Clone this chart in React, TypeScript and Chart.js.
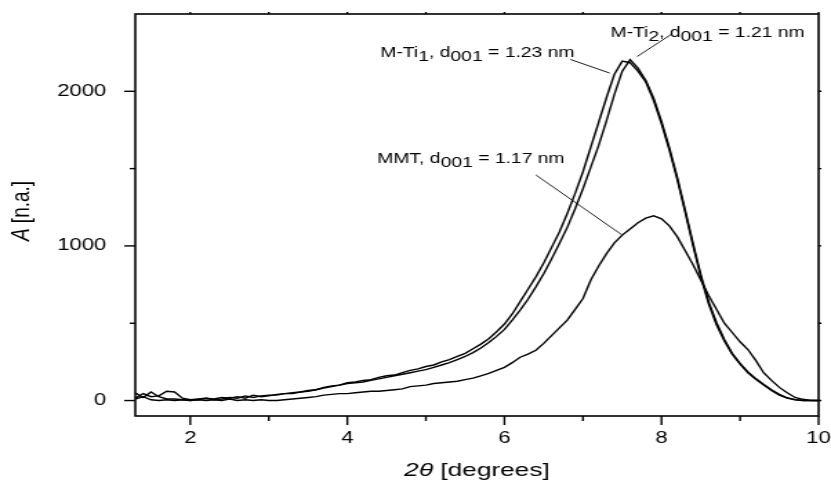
import { useEffect, useRef } from "react";
import { Chart, registerables } from "chart.js";

Chart.register(...registerables);

// 2θ values (degrees)
const twoTheta = [
  1.3, 1.4, 1.5, 1.6, 1.7, 1.8, 1.9, 2.0, 2.1, 2.2,
  2.3, 2.4, 2.5, 2.6, 2.7, 2.8, 2.9, 3.0, 3.1, 3.2,
  3.3, 3.4, 3.5, 3.6, 3.7, 3.8, 3.9, 4.0, 4.1, 4.2,
  4.3, 4.4, 4.5, 4.6, 4.7, 4.8, 4.9, 5.0, 5.1, 5.2,
  5.3, 5.4, 5.5, 5.6, 5.7, 5.8, 5.9, 6.0, 6.1, 6.2,
  6.3, 6.4, 6.5, 6.6, 6.7, 6.8, 6.9, 7.0, 7.1, 7.2,
  7.3, 7.4, 7.5, 7.6, 7.7, 7.8, 7.9, 8.0, 8.1, 8.2,
  8.3, 8.4, 8.5, 8.6, 8.7, 8.8, 8.9, 9.0, 9.1, 9.2,
  9.3, 9.4, 9.5, 9.6, 9.7, 9.8, 9.9, 10.0,
];

// M-Ti1 intensities
const mTi1 = [
  15, 45, 25, 30, 60, 55, 15, 5, 10, 15,
  10, 20, 15, 25, 15, 35, 25, 30, 40, 45,
  50, 55, 65, 70, 85, 95, 100, 115, 120, 130,
  135, 150, 160, 165, 180, 195, 205, 220, 230, 250,
  265, 285, 305, 335, 365, 400, 445, 495, 560, 640,
  720, 800, 890, 990, 1090, 1210, 1340, 1480, 1640, 1800,
  1960, 2110, 2195, 2185, 2130, 2060, 1940, 1790, 1620, 1430,
  1220, 1005, 800, 625, 490, 385, 300, 235, 180, 138,
  100, 65, 35, 15, 5, 0, 0, 0,
];

// M-Ti2 intensities
const mTi2 = [
  50, 20, 55, 25, 10, 10, 5, 0, 5, 15,
  5, 10, 20, 15, 30, 20, 30, 35, 35, 45,
  45, 55, 60, 70, 80, 90, 100, 110, 115, 120,
  130, 140, 150, 160, 170, 180, 190, 200, 215, 230,
  245, 265, 285, 310, 340, 375, 415, 460, 520, 585,
  655, 735, 820, 915, 1015, 1120, 1240, 1370, 1510, 1650,
  1810, 1980, 2130, 2205, 2150, 2070, 1955, 1805, 1635, 1445,
  1235, 1020, 815, 640, 505, 395, 305, 240, 185, 142,
  105, 70, 40, 18, 6, 0, 0, 0,
];

// MMT intensities
const mmt = [
  10, 25, 5, 0, 5, 0, 5, 0, 5, 0,
  5, 0, 10, 0, 5, 0, 5, 0, 0, 5,
  10, 15, 20, 25, 35, 40, 45, 45, 50, 55,
  60, 60, 65, 70, 75, 90, 95, 100, 110, 115,
  120, 125, 135, 145, 160, 175, 195, 215, 245, 280,
  300, 325, 370, 420, 470, 520, 590, 660, 780, 870,
  950, 1020, 1070, 1110, 1150, 1180, 1195, 1175, 1130, 1060,
  970, 880, 780, 680, 590, 500, 440, 380, 330, 260,
  180, 130, 85, 50, 20, 8, 0, 0,
];

const seriesNames = ["M-Ti1", "M-Ti2", "MMT"];

// axis tick values and which of them carry labels
const xTickValues = [2, 3, 4, 5, 6, 7, 8, 9, 10];
const xTickLabeled = [2, 4, 6, 8, 10];
const yTickValues = [0, 500, 1000, 1500, 2000];
const yTickLabeled = [0, 1000, 2000];

// Annotation labels: [text, isSubscript] parts
const annotationParts: [string, boolean][][] = [
  [["M-Ti", false], ["1", true], [", d", false], ["001", true], [" = 1.23 nm", false]],
  [["M-Ti", false], ["2", true], [", d", false], ["001", true], [" = 1.21 nm", false]],
  [["MMT, d", false], ["001", true], [" = 1.17 nm", false]],
];
// label anchor (data coords) and leader line (data coords)
const annotationTextAt = [[4.42, 2224], [7.35, 2353], [4.38, 1536]];
const annotationLineFrom = [[6.84, 2206], [8.12, 2367], [6.40, 1459]];
const annotationLineTo = [[7.34, 2118], [7.69, 2225], [7.50, 1070]];

const xMin = 1.3;
const xMax = 10;
const yMin = -100;
const yMax = 2500;

const FONT = "'Liberation Sans', Arial, Helvetica, sans-serif";
const STRETCH = 1.38;
const OUT_W = 831;
const OUT_H = 482;
const CANVAS_W = Math.round(OUT_W / STRETCH);

const overlayPlugin = {
  id: "overlay",
  afterDraw(chart: any) {
    const { ctx, chartArea: a, scales } = chart;
    const x = scales.x;
    const y = scales.y;
    ctx.save();
    ctx.strokeStyle = "#000";
    ctx.fillStyle = "#000";
    ctx.lineWidth = 1.6;
    ctx.strokeRect(a.left, a.top, a.right - a.left, a.bottom - a.top);

    ctx.lineWidth = 1.4;
    x.ticks.forEach((t: any) => {
      const px = x.getPixelForValue(t.value);
      const major = xTickLabeled.includes(t.value);
      ctx.beginPath();
      ctx.moveTo(px, a.bottom);
      ctx.lineTo(px, a.bottom + (major ? 9 : 5));
      ctx.stroke();
      ctx.beginPath();
      ctx.moveTo(px, a.top);
      ctx.lineTo(px, a.top - 2);
      ctx.stroke();
    });
    y.ticks.forEach((t: any) => {
      const py = y.getPixelForValue(t.value);
      const major = yTickLabeled.includes(t.value);
      ctx.beginPath();
      ctx.moveTo(a.left, py);
      ctx.lineTo(a.left - (major ? 8 : 4), py);
      ctx.stroke();
      ctx.beginPath();
      ctx.moveTo(a.right, py);
      ctx.lineTo(a.right + 2, py);
      ctx.stroke();
    });

    // axis titles
    ctx.textBaseline = "middle";
    const cx = (a.left + a.right) / 2;
    ctx.font = `italic 19px ${FONT}`;
    const w1 = ctx.measureText("2θ").width;
    ctx.font = `19px ${FONT}`;
    const w2 = ctx.measureText(" [degrees]").width;
    const sx = cx - (w1 + w2) / 2;
    ctx.textAlign = "left";
    ctx.font = `italic 19px ${FONT}`;
    ctx.fillText("2θ", sx, 471);
    ctx.font = `19px ${FONT}`;
    ctx.fillText(" [degrees]", sx + w1, 471);

    ctx.save();
    ctx.translate(16, (a.top + a.bottom) / 2 - 4);
    ctx.rotate(-Math.PI / 2);
    ctx.font = `italic 19px ${FONT}`;
    const wa = ctx.measureText("A").width;
    ctx.font = `19px ${FONT}`;
    const wb = ctx.measureText(" [n.a.]").width;
    const sy = -(wa + wb) / 2;
    ctx.font = `italic 19px ${FONT}`;
    ctx.fillText("A", sy, 0);
    ctx.font = `19px ${FONT}`;
    ctx.fillText(" [n.a.]", sy + wa, 0);
    ctx.restore();

    // annotations
    ctx.textBaseline = "alphabetic";
    ctx.font = `14px ${FONT}`;
    annotationParts.forEach((parts, i) => {
      let tx = x.getPixelForValue(annotationTextAt[i][0]);
      const ty = y.getPixelForValue(annotationTextAt[i][1]);
      parts.forEach(([s, sub]) => {
        ctx.fillText(s, tx, sub ? ty + 4 : ty);
        tx += ctx.measureText(s).width;
      });
      ctx.lineWidth = 0.9;
      ctx.beginPath();
      ctx.moveTo(x.getPixelForValue(annotationLineFrom[i][0]), y.getPixelForValue(annotationLineFrom[i][1]));
      ctx.lineTo(x.getPixelForValue(annotationLineTo[i][0]), y.getPixelForValue(annotationLineTo[i][1]));
      ctx.stroke();
    });
    ctx.restore();
  },
};

export default function App() {
  const ref = useRef<HTMLCanvasElement | null>(null);
  useEffect(() => {
    if (!ref.current) return;
    const mk = (vals: number[]) => vals.map((v, i) => ({ x: twoTheta[i], y: v }));
    const chart = new Chart(ref.current, {
      type: "line",
      data: {
        datasets: [mTi1, mTi2, mmt].map((vals, i) => ({
          label: seriesNames[i],
          data: mk(vals),
          borderColor: "#000",
          borderWidth: 1.4,
          pointRadius: 0,
          tension: 0,
          fill: false,
        })),
      },
      options: {
        animation: false,
        responsive: false,
        devicePixelRatio: 1,
        events: [],
        layout: { padding: { top: 14, right: 9, left: 0, bottom: 0 } },
        plugins: { legend: { display: false }, tooltip: { enabled: false } },
        scales: {
          x: {
            type: "linear",
            min: xMin,
            max: xMax,
            grid: { display: false },
            border: { display: false },
            afterBuildTicks: (s: any) => {
              s.ticks = xTickValues.map((v) => ({ value: v }));
            },
            ticks: {
              autoSkip: false,
              maxRotation: 0,
              padding: 5,
              color: "#000",
              font: { family: FONT, size: 16 },
              callback: (v: any) => (xTickLabeled.includes(Number(v)) ? String(v) : ""),
            },
            afterFit: (s: any) => {
              s.height = 66;
              s.paddingLeft = 0;
              s.paddingRight = 0;
            },
          },
          y: {
            type: "linear",
            min: yMin,
            max: yMax,
            grid: { display: false },
            border: { display: false },
            afterBuildTicks: (s: any) => {
              s.ticks = yTickValues.map((v) => ({ value: v }));
            },
            ticks: {
              autoSkip: false,
              padding: 13,
              color: "#000",
              font: { family: FONT, size: 16 },
              callback: (v: any) => (yTickLabeled.includes(Number(v)) ? String(v) : ""),
            },
            afterFit: (s: any) => {
              s.width = 98;
              s.paddingTop = 0;
              s.paddingBottom = 0;
            },
          },
        },
      },
      plugins: [overlayPlugin],
    } as any);
    return () => chart.destroy();
  }, []);
  return (
    <div style={{ position: "fixed", left: 0, top: 0, width: OUT_W, height: OUT_H, background: "#fff" }}>
      <canvas
        ref={ref}
        width={CANVAS_W}
        height={OUT_H}
        style={{ width: OUT_W + "px", height: OUT_H + "px", display: "block" }}
      />
    </div>
  );
}
